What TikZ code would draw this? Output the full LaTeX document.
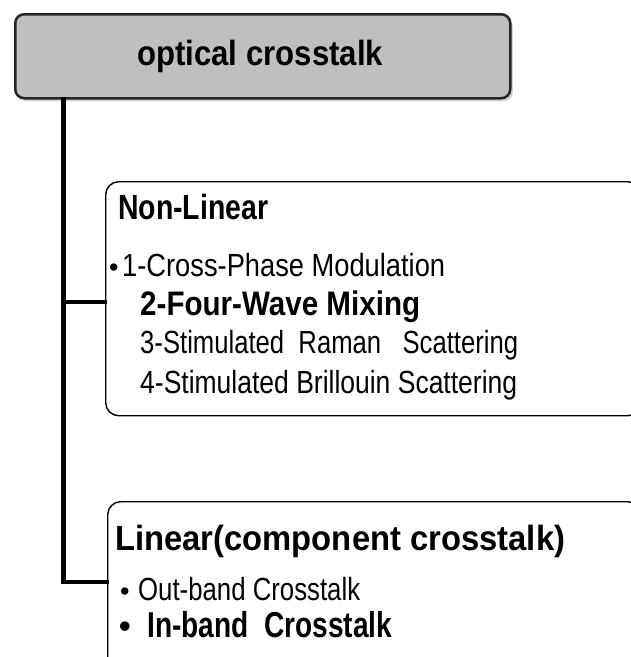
\documentclass[tikz,border=0pt]{standalone}
\usepackage{fontspec}
\usepackage{graphicx}
\setmainfont{Liberation Sans}
\usetikzlibrary{shadows}
% set a label at a given size and squeeze/stretch it to a given width
\newcommand{\wlabel}[3]{{\fontsize{#1}{#1}\selectfont\resizebox{#2pt}{\height}{#3}}}
\begin{document}
\begin{tikzpicture}[x=1pt,y=-1pt,
  rootbox/.style={draw=black!85, line width=2.5pt, fill=black!25, rounded corners=9pt,
    drop shadow={opacity=0.35, shadow xshift=2.5pt, shadow yshift=-3pt},
    anchor=north west, inner sep=0pt},
  groupbox/.style={draw=black, line width=1.4pt, rounded corners=13pt, anchor=north west, inner sep=0pt},
  txt/.style={anchor=base west, inner sep=0pt},
  bul/.style={anchor=base west, inner sep=0pt},
  trunk/.style={line width=4.5pt, line cap=rect}]
\useasboundingbox (0,0) rectangle (631,657);
\clip (0,0) rectangle (631,657);

% root category
\node[rootbox, minimum width=495pt, minimum height=84pt] (root) at (14,13) {};
\node[txt] (roottxt) at (137,65) {\bfseries\wlabel{35}{246}{optical crosstalk}};

% non-linear group
\node[groupbox, minimum width=535pt, minimum height=234pt] (nl) at (105,181) {};
\node[txt] (nlhead) at (118,219) {\bfseries\wlabel{35}{150}{Non-Linear}};
\node[bul] (nlbul) at (109,276) {\fontsize{27}{27}\selectfont\textbullet};
\node[txt] (nl1) at (122,276) {\wlabel{32}{323}{1-Cross-Phase Modulation}};
\node[txt] (nl2) at (140,315) {\bfseries\wlabel{34}{280}{2-Four-Wave Mixing}};
\node[txt] (nl3) at (140,353) {\wlabel{32}{378}{3-Stimulated\ \ Raman\ \ \ Scattering}};
\node[txt] (nl4) at (140,393) {\wlabel{32}{377}{4-Stimulated Brillouin Scattering}};

% linear group
\node[groupbox, minimum width=533pt, minimum height=170pt] (lin) at (107,501) {};
\node[txt] (linhead) at (115,550) {\bfseries\wlabel{35}{450}{Linear(component crosstalk)}};
\node[bul] (linbul1) at (120,600) {\fontsize{27}{27}\selectfont\textbullet};
\node[txt] (lin1) at (138,600) {\wlabel{32}{222}{Out-band Crosstalk}};
\node[bul] (linbul2) at (119,637) {\fontsize{33}{33}\selectfont\bfseries\textbullet};
\node[txt] (lin2) at (147,637) {\bfseries\wlabel{36}{245}{In-band\ \ Crosstalk}};

% tree connectors
\coordinate (trunktop) at (63.5,97);
\coordinate (nlin) at (105,302);
\coordinate (linin) at (107,582);
\draw[trunk] (root.south -| trunktop) -- (trunktop |- linin) -- (linin);
\draw[trunk] (trunktop |- nlin) -- (nl.west |- nlin);
\end{tikzpicture}
\end{document}
